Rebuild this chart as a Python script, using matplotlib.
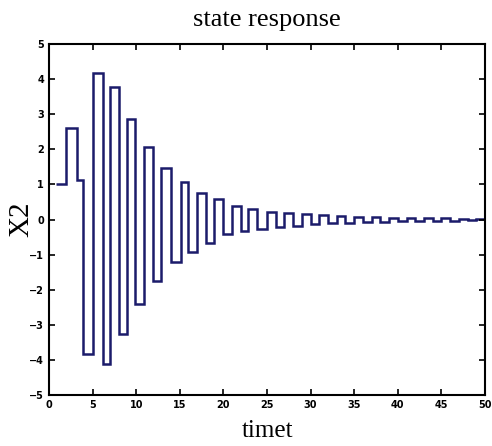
import matplotlib
matplotlib.use("Agg")
import matplotlib.pyplot as plt

# step edges (time) and the held value of X2 between them
edges = [0.8, 2.0, 3.2, 3.9, 5.05, 6.15, 6.95, 8.0, 9.0, 9.9, 10.95, 11.95,
         12.85, 13.95, 15.1, 15.95, 16.95, 18.0, 18.95, 19.95, 21.0, 22.0,
         22.8, 23.9, 25, 26, 27, 28, 29, 30, 31, 32, 33, 34, 35, 36, 37, 38,
         39, 40, 41, 42, 43, 44, 45, 46, 47, 48, 49, 50]
x2 = [1.0, 2.62, 1.12, -3.84, 4.18, -4.13, 3.77, -3.27, 2.85, -2.42, 2.07,
      -1.75, 1.46, -1.21, 1.08, -0.92, 0.76, -0.66, 0.58, -0.42, 0.38, -0.33,
      0.29, -0.27, 0.22, -0.22, 0.18, -0.18, 0.15, -0.14, 0.12, -0.11, 0.09,
      -0.09, 0.07, -0.07, 0.06, -0.06, 0.05, -0.05, 0.04, -0.04, 0.03, -0.03,
      0.03, -0.03, 0.02, -0.02, 0.02]

xticks = list(range(0, 51, 5))
yticks = list(range(-5, 6))

fig = plt.figure(figsize=(4.92, 4.46), dpi=100)
ax = fig.add_axes([0.0996, 0.1143, 0.8862, 0.787])

ax.stairs(x2, edges, baseline=None, color="#1b1b6a", linewidth=1.8)

ax.set_xlim(0, 50)
ax.set_ylim(-5, 5)
ax.set_xticks(xticks)
ax.set_yticks(yticks)
ax.tick_params(direction="in", length=4, width=1.2, top=True, right=True,
               labelsize=7)
for lab in ax.get_xticklabels() + ax.get_yticklabels():
    lab.set_fontweight("bold")
for s in ax.spines.values():
    s.set_linewidth(1.5)

ax.set_title("state response", family="Liberation Serif", fontsize=19, pad=13)
ax.set_xlabel("timet", family="Liberation Serif", fontsize=18, labelpad=7)
ax.set_ylabel("X2", family="Liberation Serif", fontsize=21, labelpad=-4)

fig.savefig("out.png", dpi=100)
